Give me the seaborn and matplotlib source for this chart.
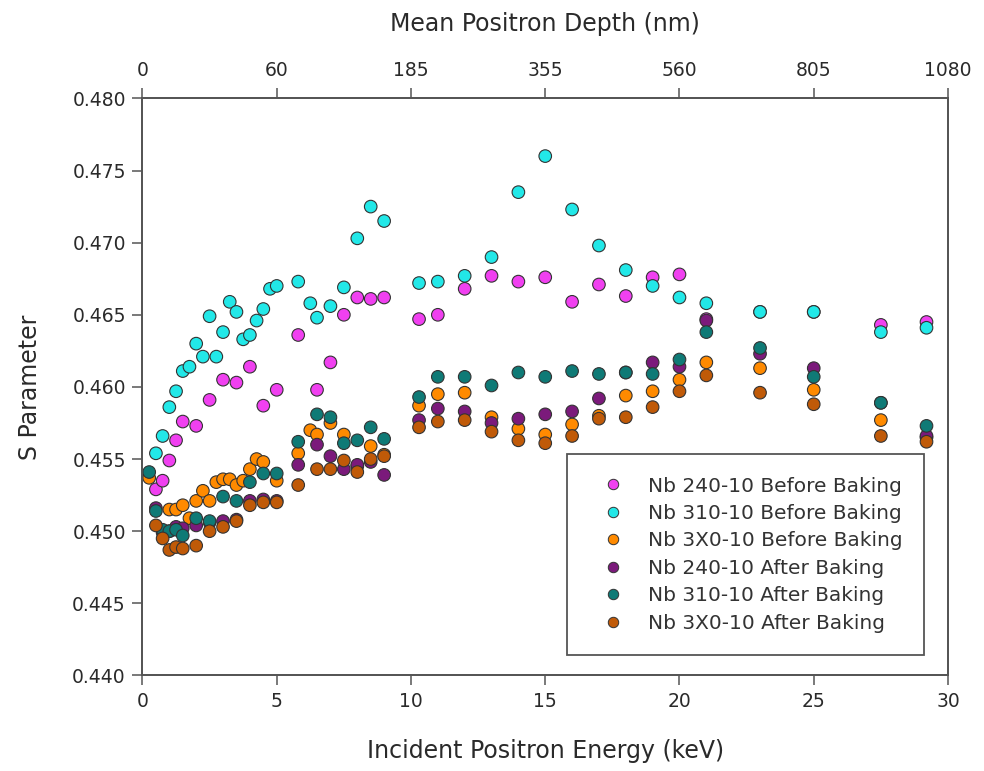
import numpy as np
import pandas as pd
import matplotlib
matplotlib.use("Agg")
import matplotlib.pyplot as plt
from matplotlib.lines import Line2D
import seaborn as sns

# ---------------- data ----------------
labels = ["Nb 240-10 Before Baking", "Nb 310-10 Before Baking", "Nb 3X0-10 Before Baking",
          "Nb 240-10 After Baking", "Nb 310-10 After Baking", "Nb 3X0-10 After Baking"]
colors = ["#F040F0", "#22E8E8", "#FF8A00", "#7B1A7B", "#0F7A76", "#C05A08"]

e_240_before = [0.5, 0.75, 1.0, 1.25, 1.5, 2.0, 2.5, 3.0, 3.5, 4.0, 4.5, 5.0, 5.8, 6.5, 7.0, 7.5,
                8.0, 8.5, 9.0, 10.3, 11, 12, 13, 14, 15, 16, 17, 18, 19, 20, 21, 23, 25, 27.5, 29.2]
s_240_before = [0.4529, 0.4535, 0.4549, 0.4563, 0.4576, 0.4573, 0.4591, 0.4605, 0.4603, 0.4614,
                0.4587, 0.4598, 0.4636, 0.4598, 0.4617, 0.4650, 0.4662, 0.4661, 0.4662, 0.4647,
                0.4650, 0.4668, 0.4677, 0.4673, 0.4676, 0.4659, 0.4671, 0.4663, 0.4676, 0.4678,
                0.4647, 0.4652, 0.4652, 0.4643, 0.4645]

e_310_before = [0.5, 0.75, 1.0, 1.25, 1.5, 1.75, 2.0, 2.25, 2.5, 2.75, 3.0, 3.25, 3.5, 3.75, 4.0,
                4.25, 4.5, 4.75, 5.0, 5.8, 6.25, 6.5, 7.0, 7.5, 8.0, 8.5, 9.0, 10.3, 11, 12, 13,
                14, 15, 16, 17, 18, 19, 20, 21, 23, 25, 27.5, 29.2]
s_310_before = [0.4554, 0.4566, 0.4586, 0.4597, 0.4611, 0.4614, 0.4630, 0.4621, 0.4649, 0.4621,
                0.4638, 0.4659, 0.4652, 0.4633, 0.4636, 0.4646, 0.4654, 0.4668, 0.4670, 0.4673,
                0.4658, 0.4648, 0.4656, 0.4669, 0.4703, 0.4725, 0.4715, 0.4672, 0.4673, 0.4677,
                0.4690, 0.4735, 0.4760, 0.4723, 0.4698, 0.4681, 0.4670, 0.4662, 0.4658, 0.4652,
                0.4652, 0.4638, 0.4641]

e_3x0_before = [0.25, 1.0, 1.25, 1.5, 1.75, 2.0, 2.25, 2.5, 2.75, 3.0, 3.25, 3.5, 3.75, 4.0, 4.25,
                4.5, 5.0, 5.8, 6.25, 6.5, 7.0, 7.5, 8.0, 8.5, 9.0, 10.3, 11, 12, 13, 14, 15, 16,
                17, 18, 19, 20, 21, 23, 25, 27.5, 29.2]
s_3x0_before = [0.4537, 0.4515, 0.4515, 0.4518, 0.4509, 0.4521, 0.4528, 0.4521, 0.4534, 0.4536,
                0.4536, 0.4532, 0.4535, 0.4543, 0.4550, 0.4548, 0.4535, 0.4554, 0.4570, 0.4567,
                0.4575, 0.4567, 0.4545, 0.4559, 0.4553, 0.4587, 0.4595, 0.4596, 0.4579, 0.4571,
                0.4567, 0.4574, 0.4580, 0.4594, 0.4597, 0.4605, 0.4617, 0.4613, 0.4598, 0.4577,
                0.4565]

e_after = [0.5, 0.75, 1.0, 1.25, 1.5, 2.0, 2.5, 3.0, 3.5, 4.0, 4.5, 5.0, 5.8, 6.5, 7.0, 7.5, 8.0,
           8.5, 9.0, 10.3, 11, 12, 13, 14, 15, 16, 17, 18, 19, 20, 21, 23, 25, 27.5, 29.2]
s_240_after = [0.4516, 0.4499, 0.4500, 0.4503, 0.4502, 0.4504, 0.4506, 0.4507, 0.4508, 0.4521,
               0.4522, 0.4521, 0.4546, 0.4560, 0.4552, 0.4543, 0.4546, 0.4548, 0.4539, 0.4577,
               0.4585, 0.4583, 0.4575, 0.4578, 0.4581, 0.4583, 0.4592, 0.4610, 0.4617, 0.4614,
               0.4646, 0.4623, 0.4613, 0.4589, 0.4566]
e_310_after = [0.25] + e_after
s_310_after = [0.4541, 0.4514, 0.4501, 0.4500, 0.4501, 0.4497, 0.4509, 0.4507, 0.4524, 0.4521,
               0.4534, 0.4540, 0.4540, 0.4562, 0.4581, 0.4579, 0.4561, 0.4563, 0.4572, 0.4564,
               0.4593, 0.4607, 0.4607, 0.4601, 0.4610, 0.4607, 0.4611, 0.4609, 0.4610, 0.4609,
               0.4619, 0.4638, 0.4627, 0.4607, 0.4589, 0.4573]
s_3x0_after = [0.4504, 0.4495, 0.4487, 0.4489, 0.4488, 0.4490, 0.4500, 0.4503, 0.4507, 0.4518,
               0.4520, 0.4520, 0.4532, 0.4543, 0.4543, 0.4549, 0.4541, 0.4550, 0.4552, 0.4572,
               0.4576, 0.4577, 0.4569, 0.4563, 0.4561, 0.4566, 0.4578, 0.4579, 0.4586, 0.4597,
               0.4608, 0.4596, 0.4588, 0.4566, 0.4562]

energy_ticks = [0, 5, 10, 15, 20, 25, 30]
depth_labels = ["0", "60", "185", "355", "560", "805", "1080"]
s_ticks = [0.440, 0.445, 0.450, 0.455, 0.460, 0.465, 0.470, 0.475, 0.480]

# ---------------- build table ----------------
series = [(e_240_before, s_240_before), (e_310_before, s_310_before), (e_3x0_before, s_3x0_before),
          (e_after, s_240_after), (e_310_after, s_310_after), (e_after, s_3x0_after)]
frames = []
for lab, (e, s) in zip(labels, series):
    frames.append(pd.DataFrame({"Energy": e, "S": s, "Sample": lab}))
df = pd.concat(frames, ignore_index=True)
palette = dict(zip(labels, colors))

# ---------------- figure ----------------
sns.set_style("white")
plt.rcParams["font.family"] = ["DejaVu Sans"]
fig = plt.figure(figsize=(9.84, 7.71), dpi=100)
ax = fig.add_axes([0.1448, 0.1239, 0.8186, 0.7485])

sns.scatterplot(data=df, x="Energy", y="S", hue="Sample", hue_order=labels, palette=palette,
                s=82, edgecolor="#333333", linewidth=0.8, legend=False, ax=ax, zorder=3)

ax.set_xlim(0, 30)
ax.set_ylim(0.440, 0.480)
ax.set_xticks(energy_ticks)
ax.set_xticklabels([str(t) for t in energy_ticks])
ax.set_yticks(s_ticks)
ax.set_yticklabels([f"{t:.3f}" for t in s_ticks])
ax.set_xlabel("Incident Positron Energy (keV)", fontsize=17, color="#2a2a2a", labelpad=20)
ax.set_ylabel("S Parameter", fontsize=17, color="#2a2a2a", labelpad=22)
ax.tick_params(axis="both", labelsize=13.5, colors="#2a2a2a", direction="out", length=7,
               width=1.1, pad=5)
ax.tick_params(axis="both", color="#555555")
ax.tick_params(axis="y", right=False, left=True)
ax.tick_params(axis="x", bottom=True, top=False)
for sp in ax.spines.values():
    sp.set_color("#555555")
    sp.set_linewidth(1.3)

ax2 = ax.twiny()
ax2.set_xlim(ax.get_xlim())
ax2.set_xticks(energy_ticks)
ax2.set_xticklabels(depth_labels)
ax2.tick_params(axis="x", labelsize=13.5, colors="#2a2a2a", direction="out", length=7,
                width=1.1, pad=6, color="#555555")
ax2.set_xlabel("Mean Positron Depth (nm)", fontsize=17, color="#2a2a2a", labelpad=22)
for sp in ax2.spines.values():
    sp.set_color("#555555")
    sp.set_linewidth(1.3)

handles = [Line2D([0], [0], marker="o", linestyle="none", markersize=7.5,
                  markerfacecolor=c, markeredgecolor="#333333", markeredgewidth=0.7)
           for c in colors]
leg = ax.legend(handles, labels, loc="lower left", bbox_to_anchor=(0.527, 0.0355),
                frameon=True, fancybox=False, framealpha=1, edgecolor="#555555",
                fontsize=14.5, handlelength=2.4, handletextpad=0.5, borderpad=1.1,
                labelspacing=0.42, borderaxespad=0)
leg.get_frame().set_linewidth(1.3)
for t in leg.get_texts():
    t.set_color("#333333")

fig.savefig("out.png", dpi=100)
